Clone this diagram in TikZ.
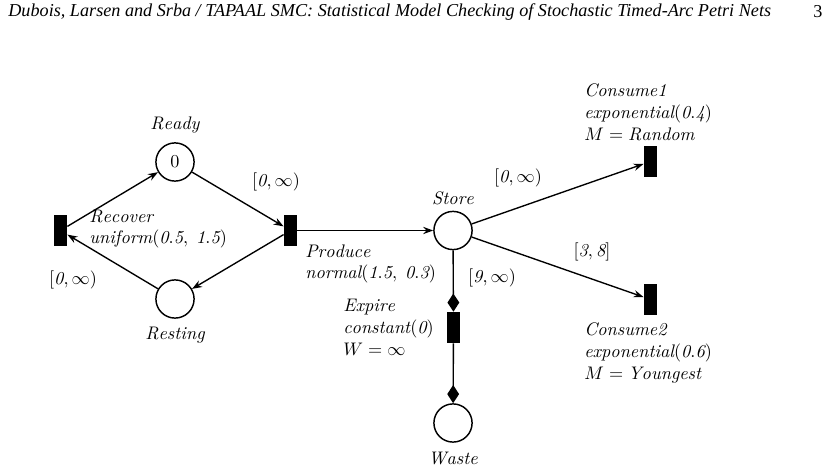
\documentclass[tikz,border=0pt]{standalone}
\usepackage{amsmath,amssymb}
\usepackage{fontspec}
\newfontfamily\headfont{Liberation Serif}
\usepackage{tikz}
\usetikzlibrary{positioning,calc}
\usetikzlibrary{arrows.meta}
\tikzset{
  place/.style={circle,draw=black,fill=white,line width=0.8pt,minimum size=21pt,inner sep=0pt},
  trans/.style={rectangle,fill=black,minimum width=7.2pt,minimum height=17pt,inner sep=0pt},
  arc/.style={draw=black,line width=0.75pt,-{Stealth[length=5.5pt,width=4pt]}},
  transport/.style={draw=black,line width=0.75pt,-{Diamond[length=10pt,width=6.5pt]}},
}
\tikzset{lab/.style={inner sep=0pt,align=left,font=\normalsize}, head/.style={inner sep=0pt,font=\headfont\fontsize{10}{12}\selectfont}}

\begin{document}
\begin{tikzpicture}[x=0.55pt,y=-0.55pt]
\useasboundingbox (0,0) rectangle (832,471);
% running head
\node[head,anchor=west] (header) at (8,12) {\itshape Dubois, Larsen and Srba / TAPAAL SMC: Statistical Model Checking of Stochastic Timed-Arc Petri Nets};
\node[head] (page) at (818,12) {3};
% places and transitions
\node[place] (ready) at (175,162) {0};
\node[place] (resting) at (175,299) {};
\node[trans] (recover) at (60.5,230.5) {};
\node[trans] (produce) at (290.5,230.5) {};
\node[place] (store) at (453,230.5) {};
\node[trans] (expire) at (453.5,327.5) {};
\node[place] (waste) at (453,423) {};
\node[trans] (consumeA) at (650.5,161.5) {};
\node[trans] (consumeB) at (650.5,299.5) {};
% arcs
\draw[arc] (recover) -- (ready);
\draw[arc] (ready) -- (produce);
\draw[arc] (produce) -- (resting);
\draw[arc] (resting) -- (recover);
\draw[arc] (produce) -- (store);
\draw[arc] (store) -- (consumeA);
\draw[arc] (store) -- (consumeB);
\draw[transport] (store) -- (expire);
\draw[transport] (expire) -- (waste);
% labels
\node[lab] (readyLab) at (175,125) {$\mathit{Ready}$};
\node[lab] (restingLab) at (175,335) {$\mathit{Resting}$};
\node[lab] (storeLab) at (453,198) {$\mathit{Store}$};
\node[lab] (wasteLab) at (453,458) {$\mathit{Waste}$};
\node[lab,anchor=west] (recoverLab) at (89,229) {$\mathit{Recover}$\\$\mathit{uniform}(\mathit{0.5},\;\mathit{1.5})$};
\node[lab,anchor=west] (produceLab) at (305,264) {$\mathit{Produce}$\\$\mathit{normal}(\mathit{1.5},\;\mathit{0.3})$};
\node[lab,anchor=west] (expireLab) at (343,327.5) {$\mathit{Expire}$\\$\mathit{constant}(\mathit{0})$\\$W=\infty$};
\node[lab,anchor=west] (consumeALab) at (584,112.5) {$\mathit{Consume1}$\\$\mathit{exponential}(\mathit{0.4})$\\$M=\mathit{Random}$};
\node[lab,anchor=west] (consumeBLab) at (584,353) {$\mathit{Consume2}$\\$\mathit{exponential}(\mathit{0.6})$\\$M=\mathit{Youngest}$};
% guards
\node[lab] (guardA) at (276,182) {$[\mathit{0},\infty)$};
\node[lab] (guardB) at (73,280) {$[\mathit{0},\infty)$};
\node[lab] (guardC) at (518,178) {$[\mathit{0},\infty)$};
\node[lab] (guardD) at (592,252) {$[\mathit{3},\mathit{8}]$};
\node[lab] (guardE) at (492,278) {$[\mathit{9},\infty)$};
\end{tikzpicture}
\end{document}
